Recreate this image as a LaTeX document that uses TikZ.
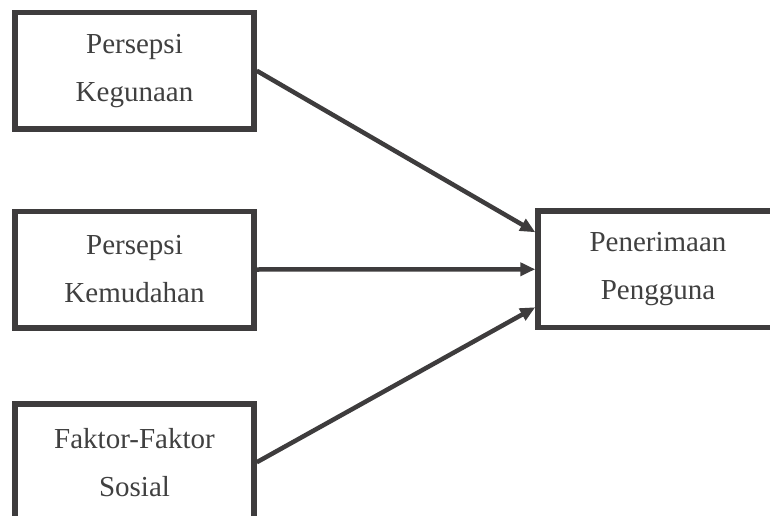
\documentclass[tikz,border=0pt]{standalone}
\usepackage{fontspec}
\setmainfont{Liberation Serif}
\usetikzlibrary{arrows.meta}
\definecolor{boxGray}{RGB}{62,60,61}
\definecolor{textGray}{RGB}{64,64,64}

\begin{document}
\begin{tikzpicture}[x=1pt,y=1pt,>={Triangle[length=15pt,width=13pt]},line width=4.5pt,text centered]
\clip (0,0) rectangle (770,515);
\fill[white] (0,0) rectangle (770,515);
\tikzstyle{every node}=[draw=boxGray,line width=5.5pt,minimum width=239pt,
minimum height=116.5pt,align=center,text=textGray,font=\fontsize{29}{48}\selectfont]
\draw (134.5,444.25) node (kegunaan) {Persepsi\\Kegunaan};
\draw (134.5,245.5) node (kemudahan) {Persepsi\\Kemudahan};
\draw (134.5,52.75) node (sosial) {Faktor-Faktor\\Sosial};
\draw (658,245.75) node[minimum width=240pt] (penerimaan) {Penerimaan\\Pengguna};

\tikzstyle{every node}=[]
\draw[->,boxGray] (kegunaan.east) -- ([yshift=37pt]penerimaan.west);
\draw[->,boxGray] (kemudahan.east) -- (penerimaan.west);
\draw[->,boxGray] (sosial.east) -- ([yshift=-38pt]penerimaan.west);

\end{tikzpicture}
\end{document}
